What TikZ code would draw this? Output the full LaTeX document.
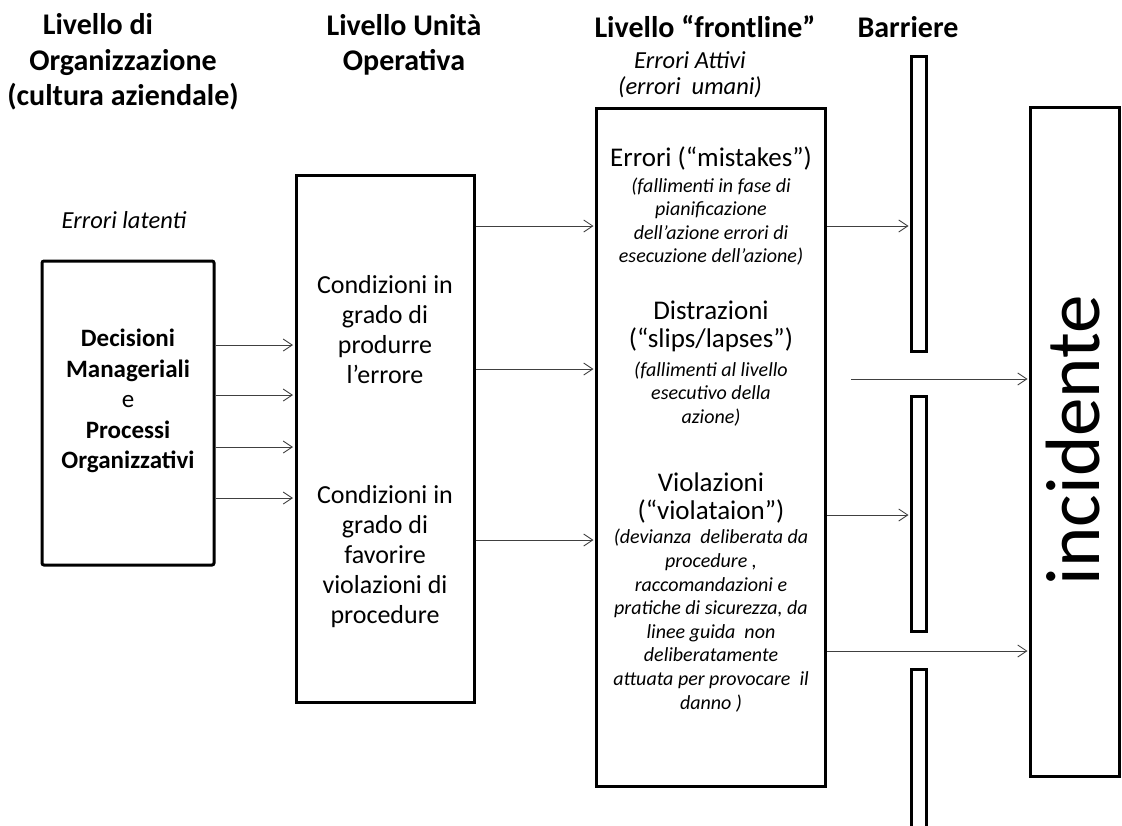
\documentclass[tikz,border=0pt]{standalone}
\usepackage{fontspec}
\setmainfont{Carlito}
\usetikzlibrary{arrows.meta}

\begin{document}
\begin{tikzpicture}[x=1pt,y=-1pt,
  box/.style={draw, line width=3pt, inner sep=0pt},
  conn/.style={draw=black!75, line width=0.9pt, shorten >=1.5pt,
    -{Straight Barb[length=9pt,width=12pt,line width=0.9pt]}},
  head/.style={font=\fontsize{30}{35.5}\selectfont\bfseries, align=center, inner sep=0pt},
  subhead/.style={font=\fontsize{24.5}{26}\selectfont\itshape, align=center, inner sep=0pt},
  title/.style={font=\fontsize{27}{28}\selectfont, align=center, inner sep=0pt},
  cond/.style={font=\fontsize{26}{30}\selectfont, align=center, inner sep=0pt},
  note/.style={font=\fontsize{20}{23.6}\selectfont\itshape, align=center, inner sep=0pt},
  orgtext/.style={font=\fontsize{25}{30.5}\selectfont, align=center, inner sep=0pt}
]
\useasboundingbox (0,0) rectangle (1122,825);
\clip (0,0) rectangle (1122,825);

% column headings
\node[head] (h1) at (123,62) {Livello di\hspace*{50pt}\\Organizzazione\\(cultura aziendale)};
\node[head] (h2) at (404,45) {Livello Unità\\Operativa};
\node[head] (h3) at (705,27) {Livello “frontline”};
\node[head] (h4) at (908,27) {Barriere};
\node[subhead] (h3s) at (690,75) {Errori Attivi\\(errori~~umani)};
\node[subhead] (lat) at (124,220) {Errori latenti};

% organisation level
\node[box, rounded corners=2pt, minimum width=172pt, minimum height=304pt] (org) at (128,413) {};
\node[orgtext] (orgt) at (128,401) {\textbf{Decisioni}\\\textbf{Manageriali}\\e\\\textbf{Processi}\\\textbf{Organizzativi}};

% operative unit level
\node[box, minimum width=178pt, minimum height=527pt] (mid) at (385,439) {};
\node[cond] (m1) at (385,330) {Condizioni in\\grado di\\produrre\\l’errore};
\node[cond] (m2) at (385,557) {Condizioni in\\grado di\\favorire\\violazioni di\\procedure};

% frontline level
\node[box, minimum width=229pt, minimum height=678pt] (front) at (711,447) {};
\node[title] (e1) at (711,158) {Errori (“mistakes”)};
\node[note] (e2) at (711,221.5) {(fallimenti in fase di\\pianificazione\\dell’azione errori di\\esecuzione dell’azione)};
\node[title] (d1) at (711,326.5) {Distrazioni\\(“slips/lapses”)};
\node[note] (d2) at (711,394) {(fallimenti al livello\\esecutivo della\\azione)};
\node[title] (v1) at (711,497.5) {Violazioni\\(“violataion”)};
\node[note] (v2) at (711,620.5) {(devianza~~deliberata da\\procedure ,\\raccomandazioni e\\pratiche di sicurezza, da\\linee guida~~non\\deliberatamente\\attuata per provocare~~il\\danno )};

% barriers
\node[box, minimum width=15pt, minimum height=295pt] (b1) at (919,204) {};
\node[box, minimum width=15pt, minimum height=235pt] (b2) at (919,514) {};
\node[box, minimum width=15pt, minimum height=171pt] (b3) at (919,755) {};

% accident
\node[box, minimum width=89pt, minimum height=669pt] (inc) at (1075,442) {};
\node[font=\fontsize{77}{82}\selectfont, rotate=90, inner sep=0pt] (inct) at (1073,440) {incidente};

% connectors
\foreach \yy in {345,395,447,498}
  \draw[conn] (org.east |- 0,\yy) -- (mid.west |- 0,\yy);
\foreach \yy in {226,369,540}
  \draw[conn] (mid.east |- 0,\yy) -- (front.west |- 0,\yy);
\draw[conn] (front.east |- 0,226) -- (b1.west |- 0,226);
\draw[conn] (front.east |- 0,515) -- (b2.west |- 0,515);
\coordinate (gap) at (851,379);
\draw[conn] (gap) -- (inc.west |- gap);
\draw[conn] (front.east |- 0,651) -- (inc.west |- 0,651);
\end{tikzpicture}
\end{document}
